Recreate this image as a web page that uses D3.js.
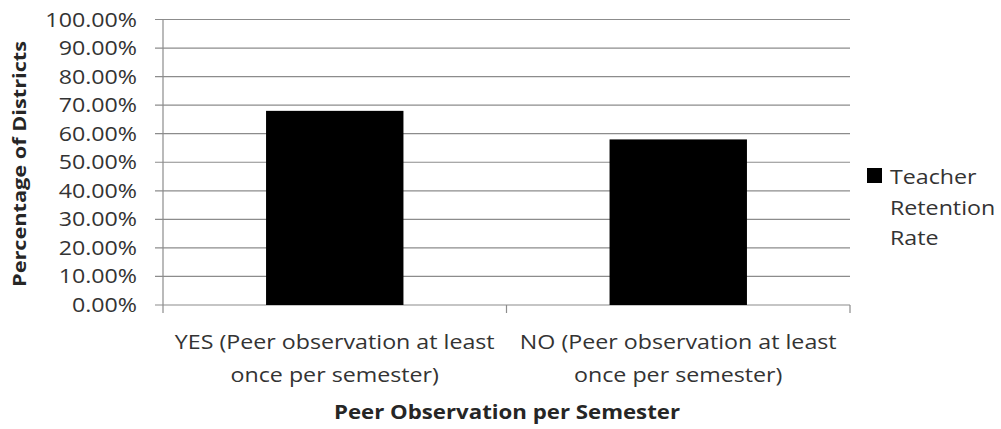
<!DOCTYPE html>
<html><head><meta charset="utf-8">
<script src="https://cdn.jsdelivr.net/npm/d3@7"></script>
<style>body{margin:0;background:#fff}svg{display:block}text{font-family:"Open Sans",sans-serif;fill:#262626}</style>
</head><body><svg id="c" width="1001" height="429"></svg>
<script>
const categories = [["YES (Peer observation at least","once per semester)"],["NO (Peer observation at least","once per semester)"]];
const categoryKeys = ["YES","NO"];
const values = [0.68, 0.58];
const yTicks = [0,0.1,0.2,0.3,0.4,0.5,0.6,0.7,0.8,0.9,1.0];
const seriesName = ["Teacher","Retention","Rate"];
const yTitle = "Percentage of Districts";
const xTitle = "Peer Observation per Semester";

function stretch(sel,k){
  sel.each(function(){
    const w=this.getComputedTextLength();
    d3.select(this).attr("textLength",w*k).attr("lengthAdjust","spacingAndGlyphs");
  });
}

const svg = d3.select("#c");
const L=163,R=850,T=19.5,B=305;
const x = d3.scaleBand().domain(categoryKeys).range([L,R]).paddingInner(0.6).paddingOuter(0.3);
const y = d3.scaleLinear().domain([0,1]).range([B,T]);

svg.append("g").selectAll("line").data(yTicks).join("line")
  .attr("x1",L-8).attr("x2",R).attr("y1",d=>y(d)).attr("y2",d=>y(d))
  .attr("stroke","#8c8c8c").attr("stroke-width",1.2);
svg.append("line").attr("x1",L).attr("x2",L).attr("y1",T).attr("y2",B).attr("stroke","#8c8c8c").attr("stroke-width",1.2);
const yl = svg.append("g").selectAll("text").data(yTicks).join("text")
  .attr("x",137).attr("y",d=>y(d)).attr("dy","0.36em").attr("text-anchor","end")
  .style("font-size","19.5px").style("fill","#333").text(d=>d3.format(".2%")(d));
stretch(yl,1.19);
const step = (R-L)/categoryKeys.length;
svg.append("g").selectAll("line").data(d3.range(categoryKeys.length+1)).join("line")
  .attr("x1",i=>L+i*step).attr("x2",i=>L+i*step).attr("y1",B).attr("y2",B+8)
  .attr("stroke","#8c8c8c").attr("stroke-width",1.2);
svg.append("g").selectAll("rect").data(values).join("rect")
  .attr("x",(d,i)=>x(categoryKeys[i])).attr("width",x.bandwidth())
  .attr("y",d=>y(d)).attr("height",d=>B-y(d)).attr("fill","#000");
const cl = svg.append("g").selectAll("text").data(categories).join("text")
  .attr("text-anchor","middle").style("font-size","20px").style("fill","#333")
  .attr("x",(d,i)=>L+(i+0.5)*step).attr("y",349);
const ts = cl.selectAll("tspan").data(d=>d).join("tspan")
  .attr("x",function(){return d3.select(this.parentNode).attr("x");})
  .attr("dy",(d,i)=>i?"33":"0").text(d=>d);
stretch(ts,1.16);
const yt = svg.append("text").attr("transform","translate(26,164) rotate(-90)").attr("text-anchor","middle")
  .style("font-size","17.5px").style("font-weight","bold").text(yTitle);
stretch(yt,1.24);
const xt = svg.append("text").attr("x",507).attr("y",419).attr("text-anchor","middle")
  .style("font-size","19px").style("font-weight","bold").text(xTitle);
stretch(xt,1.17);
svg.append("rect").attr("x",867).attr("y",168).attr("width",15).attr("height",15).attr("fill","#000");
const lg = svg.append("g").selectAll("text").data(seriesName).join("text")
  .attr("x",890).attr("y",(d,i)=>184+i*30.5).style("font-size","20px").style("fill","#333").text(d=>d);
stretch(lg,1.16);
</script></body></html>
